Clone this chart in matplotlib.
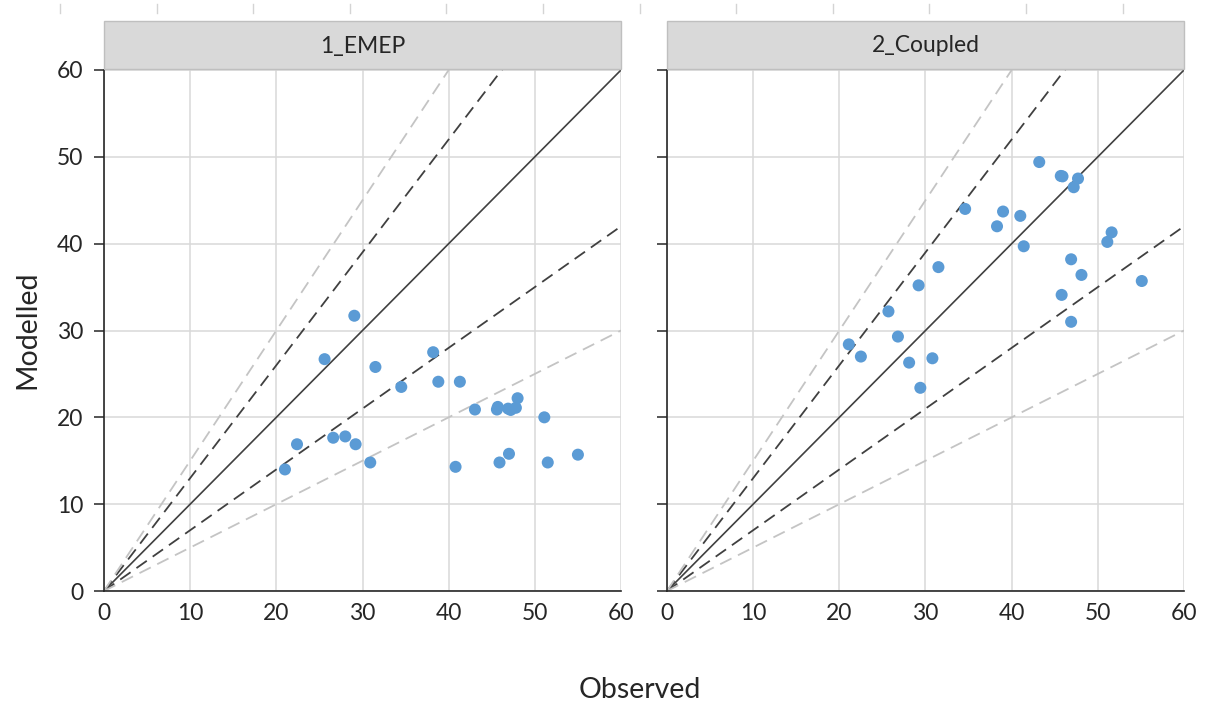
import numpy as np
import matplotlib
matplotlib.use('Agg')
import matplotlib.pyplot as plt
from matplotlib.lines import Line2D
from matplotlib.patches import Rectangle

plt.rcParams['font.family'] = ['Lato', 'DejaVu Sans']

## 数据 (observed / modelled)
panels = ['1_EMEP', '2_Coupled']

emep_obs = [21.0, 22.4, 25.6, 26.6, 28.0, 29.05, 29.2, 30.9, 31.5, 34.5, 38.2, 38.8, 40.8,
            41.3, 43.05, 45.6, 45.7, 45.9, 46.9, 47.0, 47.2, 47.8, 48.0, 51.1, 51.5, 55.0]
emep_mod = [14.0, 16.9, 26.7, 17.65, 17.8, 31.7, 16.9, 14.8, 25.8, 23.5, 27.5, 24.1, 14.3,
            24.1, 20.9, 20.9, 21.2, 14.8, 21.0, 15.8, 20.85, 21.1, 22.2, 20.0, 14.8, 15.7]

coupled_obs = [21.1, 22.5, 25.7, 26.8, 28.1, 29.2, 29.4, 30.8, 31.5, 34.6, 38.3, 39.0, 41.0,
               41.4, 43.2, 45.7, 45.9, 45.8, 46.9, 46.9, 47.2, 47.7, 48.1, 51.1, 51.6, 55.1]
coupled_mod = [28.4, 27.0, 32.2, 29.3, 26.3, 35.2, 23.4, 26.8, 37.3, 44.0, 42.0, 43.7, 43.2,
               39.7, 49.4, 47.8, 47.75, 34.1, 38.2, 31.0, 46.5, 47.5, 36.4, 40.2, 41.3, 35.7]

# 参考线斜率: 1:1, +-30%, +-50%
ratios = [1.0, 1.3, 0.7, 1.5, 0.5]

ticks = [0, 10, 20, 30, 40, 50, 60]

W, H = 1208, 709
fig = plt.figure(figsize=(W / 100, H / 100), dpi=100)

def fx(px):
    return px / W

def fy(py):
    return 1 - py / H

axes_left_px = [104, 667]
data = [(emep_obs, emep_mod), (coupled_obs, coupled_mod)]

for i, (name, (obs, mod)) in enumerate(zip(panels, data)):
    x0 = axes_left_px[i]
    ax = fig.add_axes([fx(x0), fy(591), fx(517), fy(70) - fy(591)])
    ax.set_xlim(0, 60)
    ax.set_ylim(0, 60)
    ax.set_xticks(ticks)
    ax.set_yticks(ticks)
    ax.grid(True, color='#D9D9D9', lw=1.1)
    ax.set_axisbelow(True)
    for s in ['top', 'right']:
        ax.spines[s].set_visible(False)
    for s in ['left', 'bottom']:
        ax.spines[s].set_color('#262626')
        ax.spines[s].set_linewidth(1.2)
    ax.tick_params(axis='x', length=0, labelsize=16.5, pad=9, colors='#262626')
    ax.tick_params(axis='y', length=7, width=1.1, labelsize=16.5, pad=8, colors='#262626')
    if i == 1:
        ax.tick_params(axis='y', labelleft=False)

    xx = np.array([0, 60])
    ax.plot(xx, ratios[0] * xx, color='#404040', lw=1.2, zorder=2)
    for r in ratios[1:3]:
        ax.plot(xx, r * xx, color='#404040', lw=1.3, ls=(0, (7, 4)), zorder=2)
    for r in ratios[3:]:
        ax.plot(xx, r * xx, color='#C4C4C4', lw=1.3, ls=(0, (7, 4)), zorder=2)

    ax.scatter(obs, mod, s=75, color='#5B9BD5', edgecolors='none', zorder=3, clip_on=False)

    # 标题条
    fig.patches.append(Rectangle((fx(x0), fy(69)), fx(517), fy(21) - fy(69),
                                 transform=fig.transFigure, facecolor='#D9D9D9',
                                 edgecolor='#BFBFBF', lw=1))
    fig.text(fx(x0 + 258.5), fy(46), name, ha='center', va='center', fontsize=16.5,
             color='#262626')

# Excel 网格刻度
for px in np.arange(60, 1208, 96.6):
    fig.lines.append(Line2D([fx(px), fx(px)], [fy(4), fy(13)], transform=fig.transFigure,
                            color='#D4D4D4', lw=1))

fig.text(fx(640), fy(690), 'Observed', ha='center', va='center', fontsize=20.5, color='#262626')
fig.text(fx(27), fy(330), 'Modelled', ha='center', va='center', fontsize=20.5,
         rotation=90, color='#262626')

plt.savefig('out.png', dpi=100)
